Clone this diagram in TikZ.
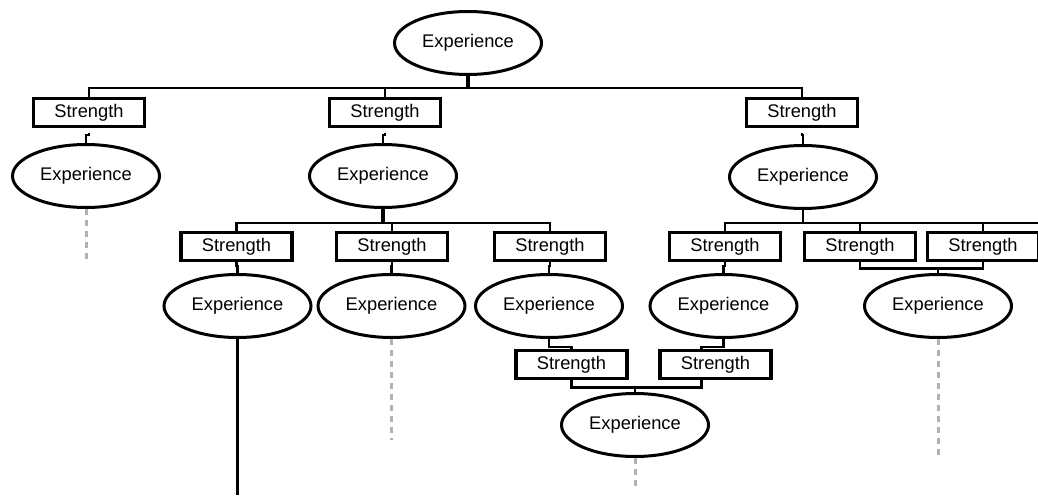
\documentclass[tikz,border=0pt]{standalone}
\usepackage{fontspec}
\setmainfont{Liberation Sans}
\usetikzlibrary{shapes.geometric,calc}

\begin{document}
\begin{tikzpicture}[x=1pt,y=-1pt,
  labelfont/.style={font=\fontsize{18.3}{20}\selectfont},
  exp/.style={ellipse,draw,line width=3pt,minimum width=147pt,minimum height=63pt,inner sep=0pt,labelfont},
  str/.style={rectangle,draw,line width=3.2pt,minimum width=111pt,minimum height=28pt,inner sep=0pt,labelfont},
  link/.style={line width=2.7pt},
  stub/.style={line width=4.2pt},
  trail/.style={line width=3pt,draw={rgb,255:red,178;green,178;blue,178},dash pattern=on 6pt off 5pt},
]
\useasboundingbox (0,0) rectangle (1038,495);

% root
\node[exp] (E0) at (468,43) {Experience};

% first level
\node[str] (S1) at (89,112.5)  {Strength};
\node[str] (S2) at (385,112.5) {Strength};
\node[str] (S3) at (802,112.5) {Strength};
\node[exp] (E1) at (86,176)  {Experience};
\node[exp] (E2) at (383,176) {Experience};
\node[exp] (E3) at (803,177) {Experience};

% second level
\node[str] (S4) at (236.5,246.5) {Strength};
\node[str] (S5) at (392,246.5)   {Strength};
\node[str] (S6) at (550,246.5)   {Strength};
\node[str] (S7) at (725,246.5)   {Strength};
\node[str] (S8) at (860,246.5)   {Strength};
\node[str] (S9) at (983,246.5)   {Strength};
\node[exp] (E4) at (237.5,306) {Experience};
\node[exp] (E5) at (391.5,306) {Experience};
\node[exp] (E6) at (549,306)   {Experience};
\node[exp] (E7) at (723.5,306) {Experience};
\node[exp] (E8) at (938,306)   {Experience};

% third level
\node[str] (S10) at (571.5,364.5) {Strength};
\node[str] (S11) at (715.5,364.5) {Strength};
\node[exp] (E9) at (635,425) {Experience};

% loose ends
\coordinate (t1) at (86,262);
\coordinate (t4) at (237.5,495);
\coordinate (t5) at (391.5,440);
\coordinate (t8) at (938,455);
\coordinate (t9) at (635,488);
\coordinate (edge) at (1045,223);

% root fan-out
\draw[link] (E0.south) -- ++(0,12) coordinate (b0) -| (S1.north);
\draw[link] (b0) -| (S2.north);
\draw[link] (b0) -| (S3.north);
\draw[stub] (E0.south) -- (b0);

% first level links
\draw[link,shorten <=5pt] (S1.south) -- ++(0,7) -| (E1.north);
\draw[link,shorten <=5pt] (S2.south) -- ++(0,7) -| (E2.north);
\draw[link,shorten <=5pt] (S3.south) -- ++(0,7) -| (E3.north);

% middle fan-out
\draw[link] (E2.south) -- ++(0,14) coordinate (b2) -| (S4.north);
\draw[link] (b2) -| (S5.north);
\draw[link] (b2) -| (S6.north);
\draw[stub] (E2.south) -- (b2);

% right fan-out
\draw[link] (E3.south) -- ++(0,13) coordinate (b3) -| (S7.north);
\draw[link] (b3) -| (S8.north);
\draw[link] (b3) -| (S9.north);
\draw[link] (b3) -- (b3 -| edge);

% second level links
\draw[link] (S4.south) -- ++(0,4) -| (E4.north);
\draw[link] (S5.south) -- ++(0,4) -| (E5.north);
\draw[link] (S6.south) -- ++(0,4) -| (E6.north);
\draw[link] (S7.south) -- ++(0,4) -| (E7.north);
\draw[link] (S8.south) -- ++(0,6.5) coordinate (j8) -| (S9.south);
\draw[link] (E8.north) -- (E8.north |- j8);

% merge towards the bottom
\draw[link] (E6.south) -- ++(0,8) -| (S10.north);
\draw[link] (E7.south) -- ++(0,8) -| ([xshift=-14pt]S11.north);
\draw[link] (S10.south) -- ++(0,7.5) coordinate (j10) -| ([xshift=-14pt]S11.south);
\draw[link] (E9.north) -- (E9.north |- j10);

% continuing lines
\draw[link] (E4.south) -- (t4);
\draw[trail] (E1.south) -- (t1);
\draw[trail] (E5.south) -- (t5);
\draw[trail] (E8.south) -- (t8);
\draw[trail] (E9.south) -- (t9);
\end{tikzpicture}
\end{document}
